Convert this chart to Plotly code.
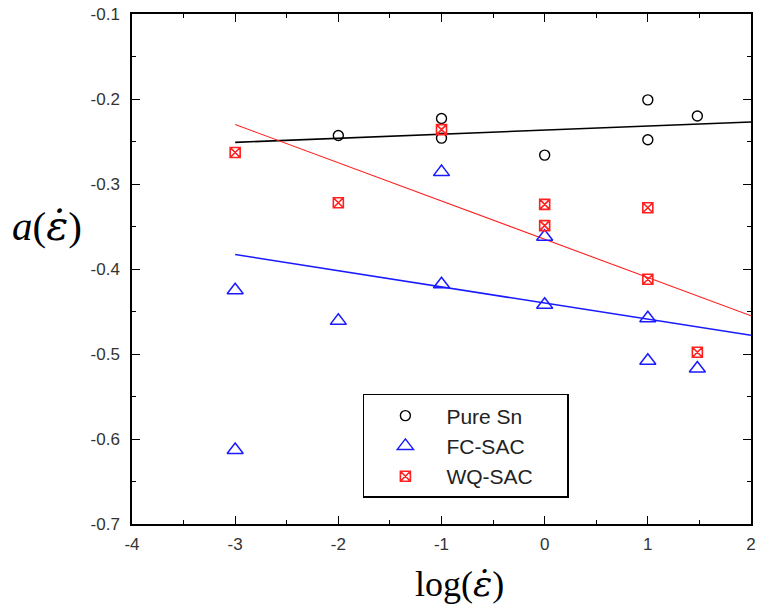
import plotly.graph_objects as go

# Measured points: log strain rate vs. a(strain rate)
sn_x = [-2, -1, -1, 0, 1, 1, 1.48]
sn_y = [-0.243, -0.223, -0.246, -0.266, -0.201, -0.248, -0.220]

fc_x = [-3, -3, -2, -1, -1, 0, 0, 1, 1, 1.48]
fc_y = [-0.425, -0.613, -0.461, -0.286, -0.418, -0.362, -0.442, -0.458, -0.508, -0.517]

wq_x = [-3, -2, -1, 0, 0, 1, 1, 1.48]
wq_y = [-0.263, -0.322, -0.236, -0.324, -0.349, -0.328, -0.412, -0.498]

# Linear fits (slope, intercept) drawn over the fit range
fit_x = [-3, 2]
sn_fit = (0.0048, -0.2366)
fc_fit = (-0.019, -0.440)
wq_fit = (-0.045, -0.365)

names = ["Pure Sn", "FC-SAC", "WQ-SAC"]

# tick positions and labels (plain hyphen as the minus sign)
x_ticks = [-4, -3, -2, -1, 0, 1, 2]
x_ticklabels = ["-4", "-3", "-2", "-1", "0", "1", "2"]
y_ticks = [-0.7, -0.6, -0.5, -0.4, -0.3, -0.2, -0.1]
y_ticklabels = ["-0.7", "-0.6", "-0.5", "-0.4", "-0.3", "-0.2", "-0.1"]


def line_y(coef, xs):
    return [coef[0] * x + coef[1] for x in xs]


fig = go.Figure()

# fitted lines (no legend entries)
fig.add_trace(go.Scatter(x=fit_x, y=line_y(sn_fit, fit_x), mode="lines",
                         line=dict(color="black", width=1.6), showlegend=False))
fig.add_trace(go.Scatter(x=fit_x, y=line_y(fc_fit, fit_x), mode="lines",
                         line=dict(color="#1a1aff", width=1.6), showlegend=False))
fig.add_trace(go.Scatter(x=fit_x, y=line_y(wq_fit, fit_x), mode="lines",
                         line=dict(color="#ff2020", width=1.1), showlegend=False))

# data markers
pad = "\u00a0" * 5
fig.add_trace(go.Scatter(x=sn_x, y=sn_y, mode="markers", name=names[0] + pad,
                         marker=dict(symbol="circle-open", size=10, color="black",
                                     line=dict(width=1.4, color="black"))))
fig.add_trace(go.Scatter(x=fc_x, y=fc_y, mode="markers", name=names[1] + pad,
                         marker=dict(symbol="triangle-up-open", size=14, color="#1a1aff",
                                     line=dict(width=1.5, color="#1a1aff"))))
fig.add_trace(go.Scatter(x=wq_x, y=wq_y, mode="markers", name=names[2] + pad,
                         marker=dict(symbol="square-x-open", size=10, color="#ff2020",
                                     line=dict(width=1.6, color="#ff2020"))))

axis_common = dict(
    showgrid=False, zeroline=False, showline=True, linecolor="black", linewidth=1.5,
    mirror="ticks", ticks="inside", ticklen=8, tickwidth=1.3, tickcolor="black",
    ticklabeloverflow="allow",
    tickfont=dict(family="Liberation Sans, Arial", size=17, color="#333333"),
)

fig.update_xaxes(range=[-4, 2], tickvals=x_ticks, ticktext=x_ticklabels, ticklabelstandoff=4,
                 minor=dict(ticks="inside", ticklen=4, dtick=0.5, tickcolor="black", tickwidth=1.2),
                 **axis_common)
fig.update_yaxes(range=[-0.7, -0.1], tickvals=y_ticks, ticktext=y_ticklabels, ticklabelstandoff=7,
                 minor=dict(ticks="inside", ticklen=4, dtick=0.05, tickcolor="black", tickwidth=1.2),
                 **axis_common)

eps_dot = "<span style=\"font-family:'DejaVu Serif'\"><i>ε̇</i></span>"
fig.add_annotation(text="<i>a</i>(" + eps_dot + ")", xref="paper", yref="paper",
                   x=-0.138, y=0.584, xanchor="center", yanchor="middle", showarrow=False,
                   font=dict(family="Liberation Serif, Times New Roman", size=41, color="black"))
fig.add_annotation(text="log(" + eps_dot + ")", xref="paper", yref="paper",
                   x=0.529, y=-0.116, xanchor="center", yanchor="middle", showarrow=False,
                   font=dict(family="Liberation Serif, Times New Roman", size=36, color="black"))

fig.update_layout(
    width=759, height=609,
    margin=dict(l=132, r=3, t=14, b=85),
    plot_bgcolor="white", paper_bgcolor="white",
    legend=dict(x=0.373, y=0.255, xanchor="left", yanchor="top",
                bgcolor="white", bordercolor="black", borderwidth=1.5,
                itemwidth=72,
                font=dict(family="Liberation Sans, Arial", size=21, color="#222222")),
)

fig.write_html("out.html")
